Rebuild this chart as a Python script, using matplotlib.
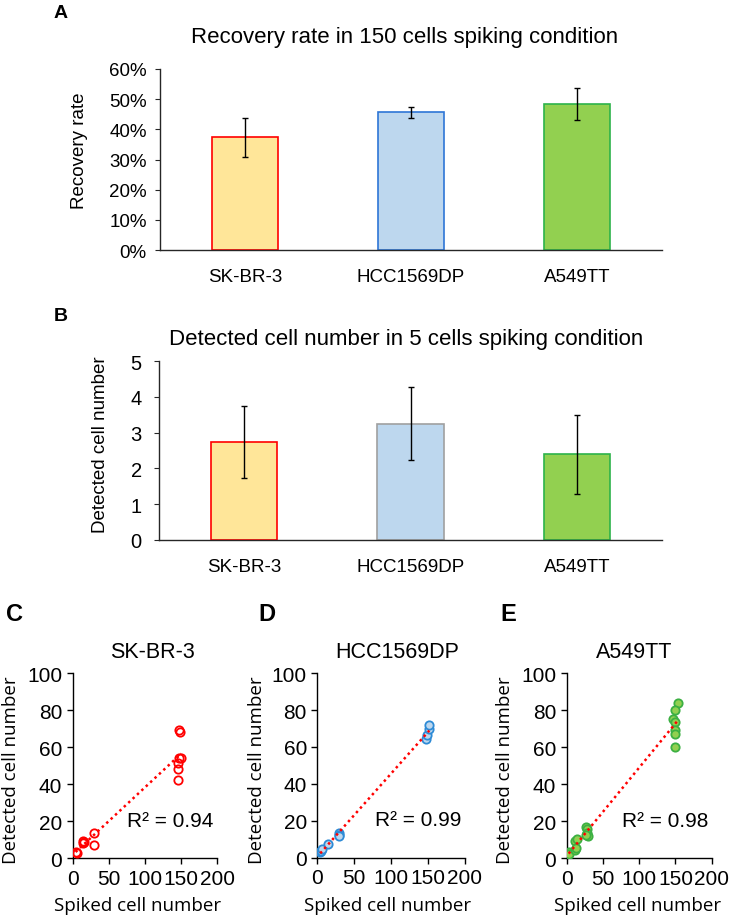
import numpy as np
import matplotlib.pyplot as plt
from matplotlib.ticker import FuncFormatter

W, H = 732, 920
plt.rcParams['font.family'] = ['Liberation Sans', 'DejaVu Sans']

# bar data
cell_lines = ['SK-BR-3', 'HCC1569DP', 'A549TT']
recovery_rate = [37.3, 45.7, 48.4]      # percent, 150 cells spiked
recovery_err = [6.6, 1.8, 5.2]
detected_5 = [2.74, 3.25, 2.39]         # cells, 5 cells spiked
detected_5_err = [1.0, 1.01, 1.1]

# scatter data (spiked, detected)
sk_x = [4, 6, 14, 14, 15, 29, 29, 147, 149, 147, 150, 146, 145, 146]
sk_y = [3.6, 2.7, 9.5, 8.3, 9.0, 13.5, 7.4, 69.5, 68.5, 54.2, 54.4, 51.4, 48.3, 42.5]
hcc_x = [4, 5, 6, 14, 30, 30, 29, 148, 149, 151, 152]
hcc_y = [3.0, 3.6, 4.7, 7.2, 13.5, 12.3, 11.5, 64.5, 66.7, 69.5, 72.0]
a549_x = [3, 4, 12, 15, 12, 13, 27, 28, 28, 29, 27, 153, 149, 147, 150, 150, 150, 150]
a549_y = [3.2, 2.5, 9.5, 10.4, 4.7, 5.5, 17.1, 15.8, 13.5, 11.9, 12.5,
          83.8, 80.2, 75.3, 73.5, 69.5, 67.2, 60.4]
r2_text = ['R² = 0.94', 'R² = 0.99', 'R² = 0.98']

fill_colors = ['#ffe699', '#bdd7ee', '#92d050']
edge_a = ['#ff0000', '#2e75d6', '#2db34a']
edge_b = ['#ff0000', '#a0a0a0', '#2db34a']
AX_COL = '#262626'


def box(l, t, r, b):
    '''Pixelbox -> figure fraction'''
    return [l / W, 1 - b / H, (r - l) / W, (b - t) / H]


def bar_panel(ax, values, errs, edges, ymax, fmt):
    x = np.arange(len(cell_lines))
    ax.bar(x, values, width=0.4, color=fill_colors, edgecolor=edges, linewidth=1.2)
    ax.errorbar(x, values, yerr=errs, fmt='none', ecolor='black',
                elinewidth=1, capsize=2.5, capthick=1)
    ax.set_xlim(-0.51, 2.51)
    ax.set_ylim(0, ymax)
    ax.set_xticks(x)
    ax.set_xticklabels(cell_lines, fontsize=13.5)
    ax.yaxis.set_major_formatter(FuncFormatter(fmt))
    ax.tick_params(axis='x', length=0, pad=13)
    ax.tick_params(axis='y', length=3.5, pad=6, labelsize=13.5, color=AX_COL)
    for s in ['top', 'right']:
        ax.spines[s].set_visible(False)
    for s in ['left', 'bottom']:
        ax.spines[s].set_color(AX_COL)
        ax.spines[s].set_linewidth(1)


def scatter_panel(ax, xs, ys, face, edge, r2):
    ax.plot(xs, ys, 'o', ms=6, mfc=face, mec=edge, mew=1.3, zorder=3)
    k, d = np.polyfit(xs, ys, 1)
    xl = np.array([min(xs), max(xs)])
    ax.plot(xl, k * xl + d, color='#ff0000', lw=1.8, ls=(0, (1, 1.4)), zorder=4)
    ax.text(195, 20.5, r2, ha='right', va='center', fontsize=15)
    ax.set_xlim(0, 200)
    ax.set_ylim(0, 100)
    ax.set_xticks([0, 50, 100, 150, 200])
    ax.set_yticks([0, 20, 40, 60, 80, 100])
    ax.tick_params(length=4, pad=3.5, labelsize=15, width=1, color='black')
    for s in ['top', 'right']:
        ax.spines[s].set_visible(False)
    for s in ['left', 'bottom']:
        ax.spines[s].set_color('black')
        ax.spines[s].set_linewidth(1)


fig = plt.figure(figsize=(W / 100, H / 100), dpi=100)

# A
axA = fig.add_axes(box(160, 70, 662, 251))
bar_panel(axA, recovery_rate, recovery_err, edge_a, 60, lambda v, p: f'{v:.0f}%')
axA.set_yticks(np.arange(0, 61, 10))
fig.text(61 / W, 1 - 13 / H, 'A', fontsize=14, fontweight='bold', ha='center', va='center')
fig.text(405 / W, 1 - 38 / H, 'Recovery rate in 150 cells spiking condition',
         fontsize=16, ha='center', va='center')
fig.text(80 / W, 1 - 151 / H, 'Recovery rate', fontsize=13.5, rotation=90,
         ha='center', va='center')

# B
axB = fig.add_axes(box(159, 362, 662, 541))
bar_panel(axB, detected_5, detected_5_err, edge_b, 5, lambda v, p: f'{v:.0f}')
axB.set_yticks(np.arange(0, 6, 1))
axB.tick_params(axis='y', labelsize=14.5, pad=9)
fig.text(61 / W, 1 - 317 / H, 'B', fontsize=14, fontweight='bold', ha='center', va='center')
fig.text(406 / W, 1 - 340 / H, 'Detected cell number in 5 cells spiking condition',
         fontsize=16, ha='center', va='center')
fig.text(101 / W, 1 - 445 / H, 'Detected cell number', fontsize=13.5, rotation=90,
         ha='center', va='center')

# C, D, E
boxes = [(72.7, 674.3, 217.3, 859.3), (317.3, 674.3, 464.7, 858.5), (566.5, 674.3, 711.7, 859.3)]
faces = ['none', '#bdd7ee', '#92d050']
edges = ['#ff0000', '#2e8bd6', '#3cb043']
data = [(sk_x, sk_y), (hcc_x, hcc_y), (a549_x, a549_y)]
letters = ['C', 'D', 'E']
letter_x = [15, 267, 508]
title_x = [152, 397, 634]
ylab_x = [11, 257, 505]
xlab_x = [138, 388, 638]

for i in range(3):
    ax = fig.add_axes(box(*boxes[i]))
    scatter_panel(ax, data[i][0], data[i][1], faces[i], edges[i], r2_text[i])
    fig.text(letter_x[i] / W, 1 - 615 / H, letters[i], fontsize=17, fontweight='bold',
             ha='center', va='center')
    fig.text(title_x[i] / W, 1 - 653 / H, cell_lines[i], fontsize=15.5,
             ha='center', va='center')
    fig.text(ylab_x[i] / W, 1 - 770 / H, 'Detected cell number', fontsize=13.5,
             family=['Open Sans', 'DejaVu Sans'], rotation=90, ha='center', va='center')
    fig.text(xlab_x[i] / W, 1 - 906 / H, 'Spiked cell number', fontsize=13.5,
             family=['Open Sans', 'DejaVu Sans'], ha='center', va='center')

fig.savefig('out.png', dpi=100)
